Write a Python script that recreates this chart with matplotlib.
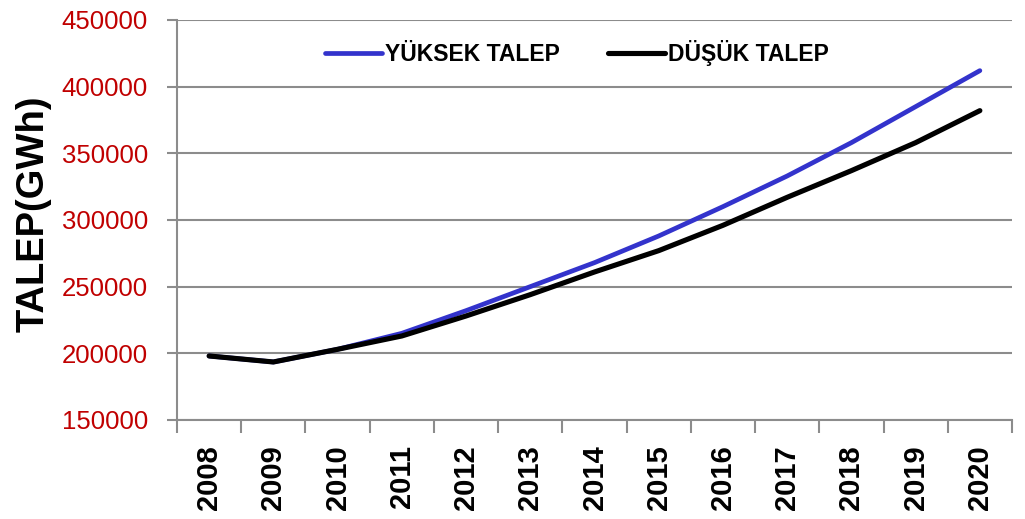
import matplotlib
matplotlib.use("Agg")
import matplotlib.pyplot as plt
from matplotlib.ticker import FixedLocator, NullFormatter
import numpy as np

years = ["2008", "2009", "2010", "2011", "2012", "2013", "2014",
         "2015", "2016", "2017", "2018", "2019", "2020"]
yuksek_talep = [198000, 193500, 203000, 215000, 232000, 250000, 268000,
                288000, 310000, 333000, 358000, 385000, 412000]
dusuk_talep = [198000, 193500, 203000, 213000, 228000, 244000, 261000,
               277000, 296000, 317000, 337000, 358000, 382000]
y_ticks = [150000, 200000, 250000, 300000, 350000, 400000, 450000]

fam = ["Liberation Sans", "DejaVu Sans"]

fig = plt.figure(figsize=(10.25, 5.19), dpi=100)
ax = fig.add_axes([0.1727, 0.1908, 0.8146, 0.7707])

x = np.arange(len(years))
ax.plot(x, yuksek_talep, color="#3333cc", lw=3.4, solid_capstyle="round",
        label="YÜKSEK TALEP", zorder=3)
ax.plot(x, dusuk_talep, color="black", lw=3.7, solid_capstyle="round",
        label="DÜŞÜK TALEP", zorder=4)

ax.set_xlim(-0.5, len(years) - 0.5)
ax.set_ylim(150000, 450000)
ax.set_yticks(y_ticks)
ax.set_yticklabels([str(v) for v in y_ticks], color="#c00000",
                   fontsize=18.5, family=fam)
ax.yaxis.grid(True, color="#8c8c8c", lw=1.5)
ax.set_axisbelow(True)

ax.set_xticks(x)
ax.set_xticklabels(years, rotation=90, fontsize=21, fontweight="bold",
                   family=fam)
ax.xaxis.set_minor_locator(FixedLocator(np.arange(-0.5, len(years), 1.0)))
ax.xaxis.set_minor_formatter(NullFormatter())
ax.tick_params(axis="x", which="major", length=0, pad=18)
ax.tick_params(axis="x", which="minor", length=9, width=1.5, color="#8c8c8c")
ax.tick_params(axis="y", which="major", length=7, width=1.5, color="#8c8c8c", pad=14)

for s in ["top", "right"]:
    ax.spines[s].set_visible(False)
for s in ["left", "bottom"]:
    ax.spines[s].set_color("#8c8c8c")
    ax.spines[s].set_linewidth(1.5)

ax.set_ylabel("TALEP(GWh)", fontsize=27.5, fontweight="bold", family=fam)
ax.yaxis.set_label_coords(-0.150, 0.515)

leg = ax.legend(loc="center left", bbox_to_anchor=(0.177, 0.9175), ncol=2,
                frameon=False, borderpad=0, borderaxespad=0,
                handlelength=2.5, handletextpad=0.13, columnspacing=2.1,
                prop={"family": fam, "weight": "bold", "size": 16.5})
for h in leg.get_lines():
    h.set_solid_capstyle("round")

fig.savefig("out.png", dpi=100, facecolor="white")
